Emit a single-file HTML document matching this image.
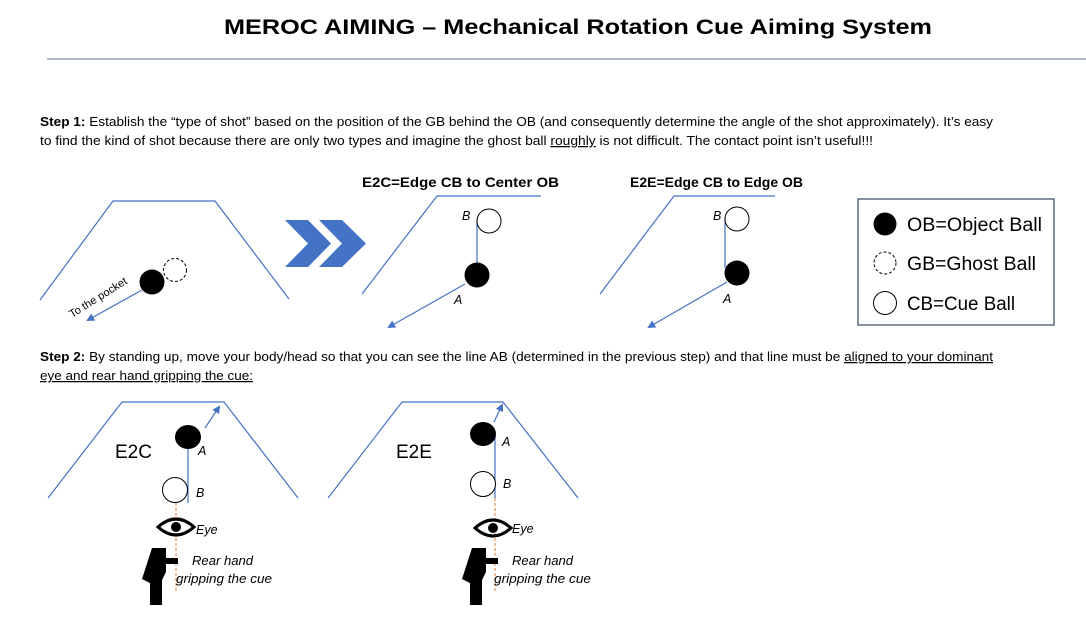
<!DOCTYPE html>
<html><head><meta charset="utf-8"><style>
body{margin:0;background:#fff;}
svg{display:block;font-family:"Liberation Sans",sans-serif;}
.t{font-size:12.5px;fill:#000;}
.it{font-style:italic;font-size:12.5px;}
</style></head><body>
<svg width="1086" height="635" viewBox="0 0 1086 635" xmlns="http://www.w3.org/2000/svg">
<defs>
<marker id="ar" markerWidth="8" markerHeight="8" refX="6" refY="4" orient="auto" markerUnits="userSpaceOnUse">
<path d="M0,0 L8,4 L0,8 z" fill="#4472c4"/></marker>
<g id="hand"><path d="M10,0 h14 v10 h12 v6 h-12 v8 l-4,8 v25 h-12 v-22 l-8,-4 z" fill="#000"/></g>
<g id="eye"><path d="M-18,0 Q0,-16 18,0 Q0,16 -18,0 z" fill="none" stroke="#000" stroke-width="3"/><circle cx="0" cy="0" r="5" fill="#000"/></g>
</defs>
<text x="224" y="34" font-weight="bold" font-size="21" textLength="708" lengthAdjust="spacingAndGlyphs">MEROC AIMING – Mechanical Rotation Cue Aiming System</text>
<line x1="47" y1="59" x2="1086" y2="59" stroke="#5a6f8f" stroke-width="1"/>
<text class="t" x="40" y="126" textLength="953" lengthAdjust="spacingAndGlyphs"><tspan font-weight="bold">Step 1:</tspan> Establish the “type of shot” based on the position of the GB behind the OB (and consequently determine the angle of the shot approximately). It’s easy</text>
<text class="t" x="40" y="145" textLength="833" lengthAdjust="spacingAndGlyphs">to find the kind of shot because there are only two types and imagine the ghost ball <tspan text-decoration="underline">roughly</tspan> is not difficult. The contact point isn’t useful!!!</text>
<g fill="none" stroke="#4472c4" stroke-width="1.2">
<polyline points="40,300 113,201 215,201 289,299"/>
<polyline points="362,294 437,196 541,196"/>
<polyline points="600,294 674,196 775,196"/>
<polyline points="48,498 122,402 224,402 298,498"/>
<polyline points="328,498 402,402 503,402 578,498"/>
<line x1="142" y1="290" x2="88" y2="320" marker-end="url(#ar)"/>
<line x1="477" y1="221" x2="477" y2="265"/>
<line x1="465" y1="284" x2="389" y2="327" marker-end="url(#ar)"/>
<line x1="725" y1="219" x2="725" y2="268"/>
<line x1="727" y1="282" x2="649" y2="327" marker-end="url(#ar)"/>
<line x1="188" y1="438" x2="188" y2="503"/>
<line x1="205" y1="428" x2="219" y2="407" marker-end="url(#ar)"/>
<line x1="495" y1="436" x2="495" y2="498"/>
<line x1="494" y1="422" x2="502" y2="405" marker-end="url(#ar)"/>
</g>
<circle cx="152" cy="282" r="12.5" fill="#000"/>
<circle cx="175" cy="270" r="11.5" fill="none" stroke="#000" stroke-dasharray="3,2"/>
<text x="72" y="318" font-size="11" transform="rotate(-32 72 318)" textLength="66" lengthAdjust="spacingAndGlyphs">To the pocket</text>
<path d="M285,220 h23 l23,23.5 l-23,23.5 h-23 l23,-23.5 z" fill="#4472c4"/>
<path d="M319,220 h23 l24,23.5 l-24,23.5 h-23 l23,-23.5 z" fill="#4472c4"/>
<text x="362" y="187" font-weight="bold" font-size="14" textLength="197" lengthAdjust="spacingAndGlyphs">E2C=Edge CB to Center OB</text>
<text x="630" y="187" font-weight="bold" font-size="14" textLength="173" lengthAdjust="spacingAndGlyphs">E2E=Edge CB to Edge OB</text>
<circle cx="489" cy="221" r="12" fill="#fff" stroke="#000"/>
<text class="it" x="462" y="220" font-size="11">B</text>
<circle cx="477" cy="275" r="12.5" fill="#000"/>
<text class="it" x="454" y="304" font-size="11">A</text>
<circle cx="737" cy="219" r="12" fill="#fff" stroke="#000"/>
<text class="it" x="713" y="220" font-size="11">B</text>
<circle cx="737" cy="273" r="12.5" fill="#000"/>
<text class="it" x="723" y="303" font-size="11">A</text>
<rect x="858" y="199" width="196" height="126" fill="none" stroke="#44546a" stroke-width="1.3"/>
<circle cx="885" cy="224" r="11.5" fill="#000"/>
<circle cx="885" cy="263" r="11" fill="none" stroke="#000" stroke-dasharray="3,2"/>
<circle cx="885" cy="303" r="11.5" fill="none" stroke="#000"/>
<text x="907" y="231" font-size="19" textLength="135" lengthAdjust="spacingAndGlyphs">OB=Object Ball</text>
<text x="907" y="270" font-size="19" textLength="129" lengthAdjust="spacingAndGlyphs">GB=Ghost Ball</text>
<text x="907" y="310" font-size="19" textLength="108" lengthAdjust="spacingAndGlyphs">CB=Cue Ball</text>
<text class="t" x="40" y="361" textLength="953" lengthAdjust="spacingAndGlyphs"><tspan font-weight="bold">Step 2:</tspan> By standing up, move your body/head so that you can see the line AB (determined in the previous step) and that line must be <tspan text-decoration="underline">aligned to your dominant</tspan></text>
<text class="t" x="40" y="380" text-decoration="underline" textLength="213" lengthAdjust="spacingAndGlyphs">eye and rear hand gripping the cue:</text>
<ellipse cx="188" cy="437" rx="13" ry="12" fill="#000"/>
<text class="it" x="198" y="455">A</text>
<circle cx="175" cy="490" r="12.5" fill="#fff" stroke="#000"/>
<text class="it" x="196" y="497">B</text>
<text x="115" y="458" font-size="19">E2C</text>
<line x1="176" y1="503" x2="176" y2="592" stroke="#ed7d31" stroke-width="1" stroke-dasharray="3,2"/>
<use href="#eye" x="176" y="527"/>
<text class="it" x="196" y="534">Eye</text>
<use href="#hand" x="142" y="548"/>
<text class="it" x="192" y="565" textLength="61" lengthAdjust="spacingAndGlyphs">Rear hand</text>
<text class="it" x="176" y="583" textLength="96" lengthAdjust="spacingAndGlyphs">gripping the cue</text>
<ellipse cx="483" cy="434" rx="13" ry="12" fill="#000"/>
<text class="it" x="502" y="446">A</text>
<circle cx="483" cy="484" r="12.5" fill="#fff" stroke="#000"/>
<text class="it" x="503" y="488">B</text>
<text x="396" y="458" font-size="19">E2E</text>
<line x1="495" y1="498" x2="495" y2="592" stroke="#ed7d31" stroke-width="1" stroke-dasharray="3,2"/>
<use href="#eye" x="493" y="528"/>
<text class="it" x="512" y="533">Eye</text>
<use href="#hand" x="462" y="548"/>
<text class="it" x="512" y="565" textLength="61" lengthAdjust="spacingAndGlyphs">Rear hand</text>
<text class="it" x="494" y="583" textLength="97" lengthAdjust="spacingAndGlyphs">gripping the cue</text>
</svg>
</body></html>
